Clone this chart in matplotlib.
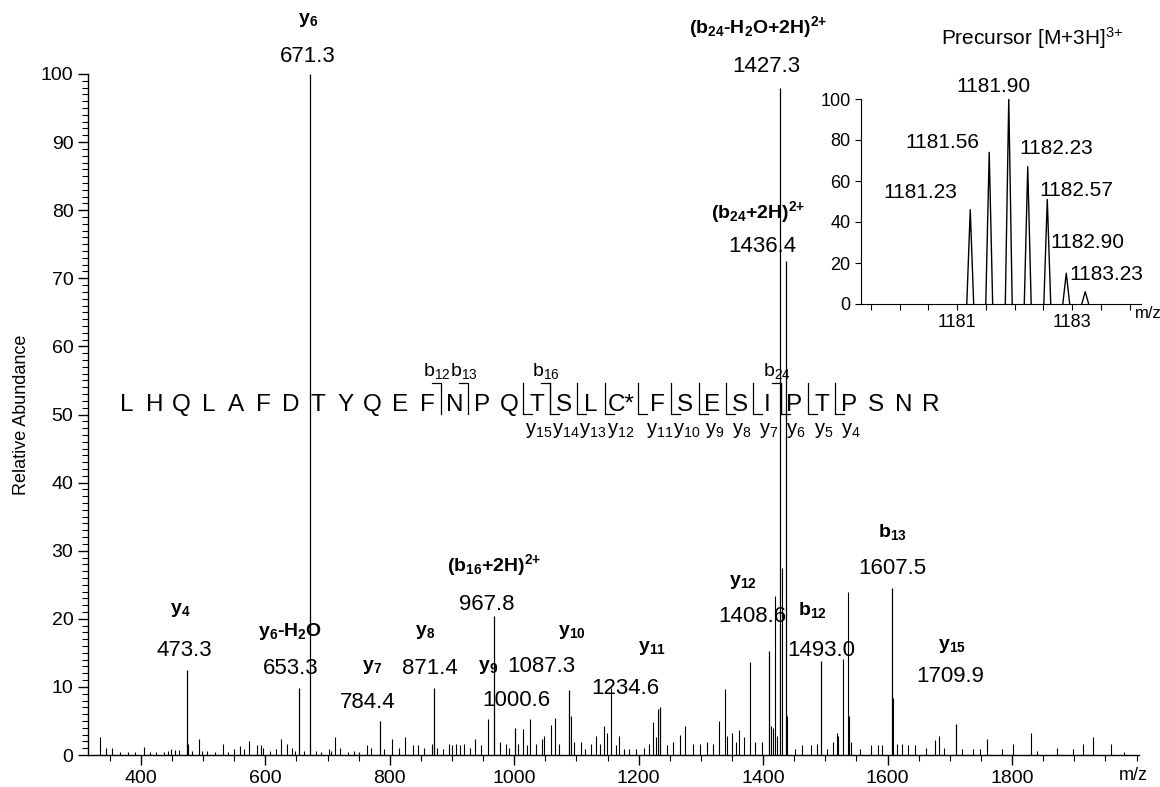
import matplotlib
matplotlib.use("Agg")
import matplotlib.pyplot as plt
from matplotlib.ticker import MultipleLocator, FixedLocator

plt.rcParams['font.family'] = ['Liberation Sans', 'DejaVu Sans']
plt.rcParams['mathtext.fontset'] = 'custom'
plt.rcParams['mathtext.rm'] = 'Liberation Sans'
plt.rcParams['mathtext.it'] = 'Liberation Sans:italic'
plt.rcParams['mathtext.bf'] = 'Liberation Sans:bold'

# ---------------- data ----------------
labeled_mz = [473.3, 653.3, 671.3, 784.4, 871.4, 967.8, 1000.6, 1087.3,
              1234.6, 1408.6, 1427.3, 1436.4, 1493.0, 1607.5, 1709.9]
labeled_int = [12.5, 9.9, 100.0, 5.0, 9.9, 20.4, 3.9, 9.5,
               7.0, 15.3, 98.0, 72.5, 13.8, 24.5, 4.5]
labeled_ion = [r"y$_{\mathbf{4}}$", r"y$_{\mathbf{6}}$-H$_{\mathbf{2}}$O", r"y$_{\mathbf{6}}$",
               r"y$_{\mathbf{7}}$", r"y$_{\mathbf{8}}$", r"(b$_{\mathbf{16}}$+2H)$^{\mathbf{2{+}}}$",
               r"y$_{\mathbf{9}}$", r"y$_{\mathbf{10}}$", r"y$_{\mathbf{11}}$", r"y$_{\mathbf{12}}$",
               r"(b$_{\mathbf{24}}$-H$_{\mathbf{2}}$O+2H)$^{\mathbf{2{+}}}$",
               r"(b$_{\mathbf{24}}$+2H)$^{\mathbf{2{+}}}$", r"b$_{\mathbf{12}}$",
               r"b$_{\mathbf{13}}$", r"y$_{\mathbf{15}}$"]

noise_mz = [334.1, 343.3, 354.3, 366.5, 378.7, 390.9, 404.9, 415.3, 424.5, 436.7,
            442.8, 447.7, 455.0, 461.1, 475.1, 482.5, 492.8, 497.7, 506.9, 519.1,
            531.3, 540.5, 549.6, 558.8, 564.9, 574.0, 586.2, 592.3, 596.6, 607.6,
            616.8, 625.9, 635.1, 642.4, 647.3, 662.6, 680.9, 690.0, 702.2, 705.3,
            711.4, 720.5, 732.8, 741.9, 751.1, 763.3, 769.4, 790.8, 804.2, 815.2,
            824.3, 836.5, 845.7, 854.9, 867.1, 876.2, 885.4, 894.5, 900.6, 906.8,
            912.9, 918.9, 928.1, 937.3, 946.4, 958.6, 977.0, 986.1, 992.2, 1005.6,
            1013.6, 1019.7, 1025.8, 1034.9, 1044.1, 1047.2, 1059.4, 1065.5, 1071.6, 1091.0,
            1096.0, 1108.0, 1114.3, 1123.0, 1131.8, 1137.7, 1143.5, 1149.4, 1156.0, 1164.0,
            1168.1, 1175.7, 1184.5, 1196.2, 1207.9, 1216.6, 1222.5, 1228.4, 1230.5, 1245.9,
            1254.7, 1266.4, 1275.2, 1286.9, 1298.6, 1309.1, 1319.1, 1329.0, 1338.4, 1342.5,
            1350.1, 1357.1, 1361.8, 1368.8, 1379.3, 1386.3, 1398.0, 1412.7, 1415.6, 1419.7,
            1422.6, 1430.2, 1439.0, 1450.7, 1462.4, 1477.0, 1485.8, 1503.4, 1512.1, 1518.0,
            1520.9, 1528.0, 1535.6, 1537.3, 1541.4, 1556.0, 1573.6, 1585.3, 1591.1, 1609.3,
            1615.7, 1623.3, 1632.1, 1643.8, 1661.3, 1676.0, 1683.0, 1690.6, 1719.9, 1737.4,
            1749.1, 1759.7, 1784.2, 1801.8, 1829.9, 1839.8, 1872.0, 1898.3, 1914.1, 1930.5,
            1959.8, 1980.3]
noise_int = [2.7, 1.1, 1.0, 0.5, 0.4, 0.4, 1.2, 0.5, 0.4, 0.5,
             0.6, 0.9, 0.8, 0.8, 1.6, 0.6, 2.4, 0.6, 0.6, 0.5,
             1.6, 0.5, 0.9, 1.3, 0.9, 2.1, 1.5, 1.5, 1.1, 0.6,
             0.9, 2.4, 1.6, 1.1, 0.6, 0.6, 0.6, 0.5, 0.9, 0.6,
             2.7, 1.1, 0.5, 0.6, 0.5, 1.4, 1.0, 0.9, 2.4, 1.0,
             2.6, 1.4, 1.4, 1.1, 1.6, 1.1, 0.9, 1.6, 1.4, 1.6,
             1.5, 1.6, 1.1, 2.3, 1.4, 5.3, 1.9, 1.6, 1.1, 1.6,
             3.8, 1.4, 5.3, 1.6, 2.3, 2.8, 4.4, 5.5, 1.6, 5.7,
             1.9, 1.9, 0.9, 1.6, 2.8, 1.6, 4.3, 3.3, 9.8, 1.4,
             2.8, 0.9, 0.9, 0.9, 1.1, 1.6, 4.9, 2.6, 6.7, 1.5,
             1.9, 2.9, 4.3, 1.6, 1.6, 1.9, 1.6, 5.0, 9.7, 2.8,
             3.3, 1.9, 3.6, 2.7, 13.7, 1.9, 1.9, 4.3, 4.0, 23.3,
             2.8, 27.5, 5.8, 0.9, 1.5, 1.5, 1.6, 0.9, 1.9, 3.3,
             2.8, 14.1, 23.9, 5.8, 1.9, 0.9, 1.4, 1.4, 1.5, 8.3,
             1.6, 1.6, 1.5, 1.5, 1.1, 2.2, 2.8, 1.1, 0.9, 0.9,
             0.9, 2.3, 0.9, 1.6, 3.3, 0.6, 1.1, 0.9, 1.6, 2.6,
             1.6, 0.4]

peptide = ["L", "H", "Q", "L", "A", "F", "D", "T", "Y", "Q", "E", "F", "N", "P", "Q",
           "T", "S", "L", "C*", "F", "S", "E", "S", "I", "P", "T", "P", "S", "N", "R"]
b_ions = [12, 13, 16, 24]
y_ions = [15, 14, 13, 12, 11, 10, 9, 8, 7, 6, 5, 4]

prec_mz = [1181.23, 1181.56, 1181.90, 1182.23, 1182.57, 1182.90, 1183.23]
prec_int = [46, 74, 100, 67, 51, 15, 6]

x_ticks = [400, 600, 800, 1000, 1200, 1400, 1600, 1800]
y_ticks = [0, 10, 20, 30, 40, 50, 60, 70, 80, 90, 100]
inset_xticks = [1181, 1183]
inset_yticks = [0, 20, 40, 60, 80, 100]

# ---------------- layout ----------------
W, H = 1160, 787
fig = plt.figure(figsize=(W / 100, H / 100), dpi=100)


def fx(x):
    return x / W


def fy(y):
    return 1 - y / H


ax = fig.add_axes([fx(88), fy(755), fx(1139) - fx(88), fy(74) - fy(755)])
ax.set_xlim(315, 2004)
ax.set_ylim(0, 100)
ax.vlines(noise_mz, 0, noise_int, color='black', lw=0.8)
ax.vlines(labeled_mz, 0, labeled_int, color='black', lw=0.9)
for s in ['top', 'right']:
    ax.spines[s].set_visible(False)
ax.spines['left'].set_linewidth(1.0)
ax.spines['bottom'].set_linewidth(1.0)
ax.xaxis.set_major_locator(FixedLocator(x_ticks))
ax.xaxis.set_minor_locator(MultipleLocator(50))
ax.yaxis.set_major_locator(FixedLocator(y_ticks))
ax.yaxis.set_minor_locator(MultipleLocator(1))
ax.tick_params(axis='both', which='major', direction='out', length=7, width=1, labelsize=14)
ax.tick_params(axis='both', which='minor', direction='out', length=4, width=0.8)
ax.tick_params(axis='x', pad=4)
ax.set_ylabel("Relative Abundance", fontsize=13, labelpad=8)
fig.text(fx(1133), fy(775), "m/z", fontsize=13, ha='center', va='center')

# peak annotations (ion name, value) positions in pixels
ion_pos = [(180, 610), (290, 632), (308, 20), (372, 667), (425, 632), (494, 565),
           (488, 667), (572, 632), (652, 648), (743, 582), (758, 27),
           (758, 212), (812, 610), (892, 532), (952, 646)]
val_pos = [(184, 650), (291, 668), (308, 57), (368, 703), (430, 668), (487, 605),
           (516, 700), (541, 666), (625, 688), (752, 617), (766, 67),
           (762, 247), (821, 650), (892, 568), (950, 677)]
for mz, ion, ip, vp in zip(labeled_mz, labeled_ion, ion_pos, val_pos):
    fig.text(fx(ip[0]), fy(ip[1]), ion, fontsize=14, fontweight='bold',
             ha='center', va='center')
    fig.text(fx(vp[0]), fy(vp[1]), f"{mz:.1f}", fontsize=16, ha='center', va='center')

# peptide sequence
x0, step, extra = 127, 27.3, 12
letter_x = [x0 + step * i + (extra if i >= 19 else 0) for i in range(len(peptide))]
y_letters = 405
for i, aa in enumerate(peptide):
    xx = letter_x[i] + (3 if aa == "C*" else 0)
    fig.text(fx(xx), fy(y_letters), aa, fontsize=17.5, ha='center', va='center')

top_b, bot_b, hook = 383, 414, 9
n = len(peptide)
for b in b_ions:
    bx = (letter_x[b - 1] + letter_x[b]) / 2
    fig.add_artist(plt.Line2D([fx(bx - hook), fx(bx), fx(bx)],
                              [fy(top_b), fy(top_b), fy(bot_b)],
                              color='black', lw=0.9))
    fig.text(fx(bx - 4), fy(371), "b$_{%d}$" % b, fontsize=14,
             ha='center', va='center')
for yv in y_ions:
    k = n - yv
    bx = (letter_x[k - 1] + letter_x[k]) / 2
    fig.add_artist(plt.Line2D([fx(bx), fx(bx), fx(bx + hook)],
                              [fy(top_b), fy(bot_b), fy(bot_b)],
                              color='black', lw=0.9))
    fig.text(fx(letter_x[k] + 2), fy(430), "y$_{%d}$" % yv, fontsize=14.5,
             ha='center', va='center')

# ---------------- inset ----------------
ax2 = fig.add_axes([fx(861), fy(304), fx(1141) - fx(861), fy(99) - fy(304)])
ax2.set_xlim(1179.33, 1184.2)
ax2.set_ylim(0, 100)
hw = 0.06
for c, h in zip(prec_mz, prec_int):
    ax2.plot([c - hw, c, c + hw], [0, h, 0], color='black', lw=1.0)
for s in ['top', 'right']:
    ax2.spines[s].set_visible(False)
ax2.xaxis.set_major_locator(FixedLocator(inset_xticks))
ax2.xaxis.set_minor_locator(MultipleLocator(0.5))
ax2.yaxis.set_major_locator(FixedLocator(inset_yticks))
ax2.tick_params(axis='both', which='major', direction='out', length=4, width=0.8, labelsize=13)
ax2.tick_params(axis='x', which='minor', direction='out', length=4, width=0.8)
ax2.set_xticklabels([str(t) for t in inset_xticks])
ax2.patch.set_alpha(0)

prec_lab_pos = [(920, 193), (942, 142), (993, 87), (1056, 148), (1076, 190),
                (1087, 243), (1106, 274)]
for m, p in zip(prec_mz, prec_lab_pos):
    fig.text(fx(p[0]), fy(p[1]), f"{m:.2f}", fontsize=15, ha='center', va='center')
fig.text(fx(1032), fy(38), r"Precursor [M+3H]$^{3{+}}$", fontsize=15, ha='center', va='center')
fig.text(fx(1148), fy(314), "m/z", fontsize=12, ha='center', va='center')

fig.savefig("out.png", dpi=100)
